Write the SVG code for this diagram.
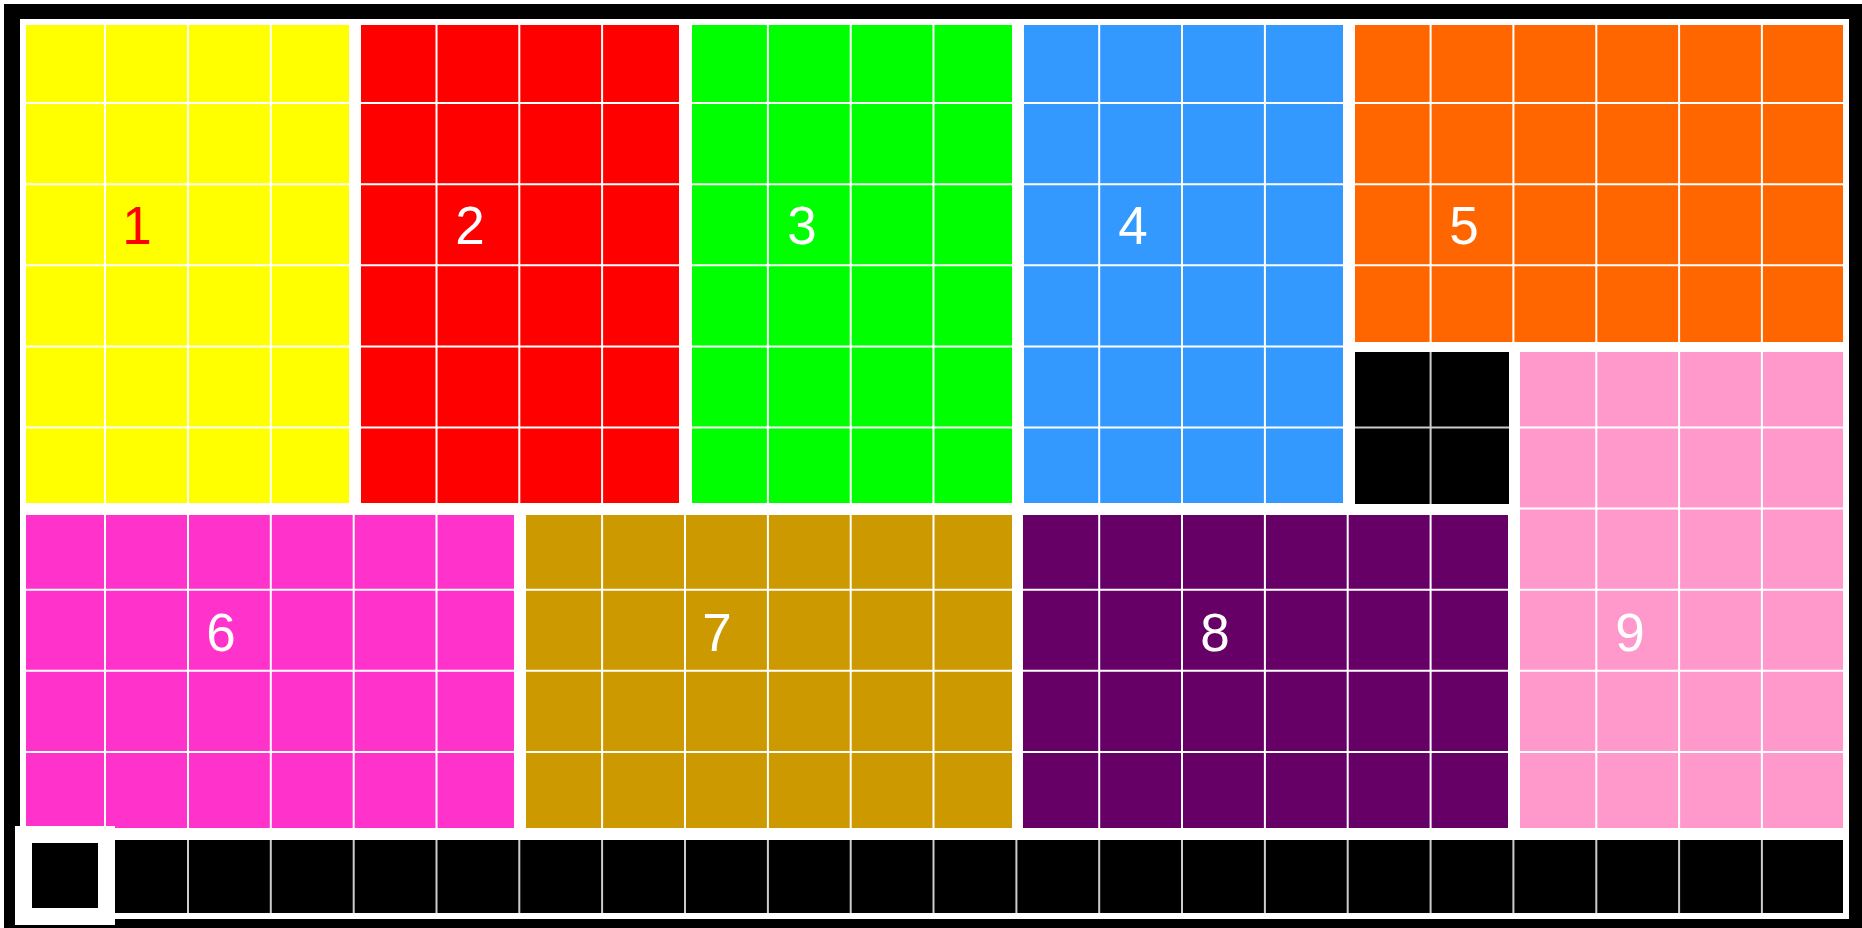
<svg xmlns="http://www.w3.org/2000/svg" width="1862" height="928" viewBox="0 0 1862 928">
<style>
.grid{stroke:#ffffff;stroke-width:2;fill:none}
.lbl{font-family:"Liberation Sans",Arial,sans-serif;font-size:53px;text-anchor:middle;fill:#ffffff}
</style>
<rect x="0" y="0" width="1862" height="928" fill="#ffffff"/>
<rect x="4" y="4" width="1858" height="924" fill="#000000"/>
<rect x="20" y="19" width="1829" height="900" fill="#ffffff"/>

<g id="block1">
<rect x="26" y="25" width="323" height="478" fill="#ffff00"/>
<path class="grid" d="M105 25V503M188 25V503M270.8 25V503M26 103.1H349M26 184.2H349M26 265.3H349M26 346.4H349M26 427.5H349"/>
<text class="lbl" x="137" y="244" style="fill:#ff0000">1</text>
</g>

<g id="block2">
<rect x="361" y="25" width="318" height="478" fill="#ff0000"/>
<path class="grid" d="M436.5 25V503M519.3 25V503M602.1 25V503M361 103.1H679M361 184.2H679M361 265.3H679M361 346.4H679M361 427.5H679"/>
<text class="lbl" x="470" y="244">2</text>
</g>

<g id="block3">
<rect x="692" y="25" width="320" height="478" fill="#00ff00"/>
<path class="grid" d="M767.9 25V503M850.7 25V503M933.5 25V503M692 103.1H1012M692 184.2H1012M692 265.3H1012M692 346.4H1012M692 427.5H1012"/>
<text class="lbl" x="802" y="244">3</text>
</g>

<g id="block4">
<rect x="1024" y="25" width="319" height="478" fill="#3399ff"/>
<path class="grid" d="M1099.2 25V503M1182 25V503M1264.9 25V503M1024 103.1H1343M1024 184.2H1343M1024 265.3H1343M1024 346.4H1343M1024 427.5H1343"/>
<text class="lbl" x="1133" y="244">4</text>
</g>

<g id="block5">
<rect x="1355" y="25" width="488" height="317" fill="#ff6600"/>
<path class="grid" d="M1430.6 25V342M1513.4 25V342M1596.3 25V342M1679.1 25V342M1761.9 25V342M1355 103.1H1843M1355 184.2H1843M1355 265.3H1843"/>
<text class="lbl" x="1464" y="244">5</text>
</g>

<g id="blackbox">
<rect x="1355" y="352" width="154" height="152" fill="#000000"/>
<path class="grid" d="M1430.6 352V504M1355 427.5H1509" style="stroke:#cccccc"/>
</g>

<g id="block9">
<rect x="1520" y="352" width="323" height="476" fill="#ff99cc"/>
<path class="grid" d="M1596.3 352V828M1679.1 352V828M1761.9 352V828M1520 427.5H1843M1520 508.6H1843M1520 589.7H1843M1520 670.8H1843M1520 751.9H1843"/>
<text class="lbl" x="1630" y="651">9</text>
</g>

<g id="block6">
<rect x="26" y="515" width="488" height="313" fill="#ff33cc"/>
<path class="grid" d="M105 515V828M188 515V828M270.8 515V828M353.7 515V828M436.5 515V828M26 589.7H514M26 670.8H514M26 751.9H514"/>
<text class="lbl" x="221" y="651">6</text>
</g>

<g id="block7">
<rect x="526" y="515" width="486" height="313" fill="#cc9900"/>
<path class="grid" d="M602.1 515V828M685 515V828M767.9 515V828M850.7 515V828M933.5 515V828M526 589.7H1012M526 670.8H1012M526 751.9H1012"/>
<text class="lbl" x="717" y="651">7</text>
</g>

<g id="block8">
<rect x="1023" y="515" width="485" height="313" fill="#660066"/>
<path class="grid" d="M1099.2 515V828M1182 515V828M1264.9 515V828M1347.7 515V828M1430.6 515V828M1023 589.7H1508M1023 670.8H1508M1023 751.9H1508"/>
<text class="lbl" x="1215" y="651">8</text>
</g>

<g id="strip">
<rect x="26" y="840" width="1817" height="73" fill="#000000"/>
<path class="grid" style="stroke:#cccccc" d="M188 840V913M270.8 840V913M353.7 840V913M436.5 840V913M519.3 840V913M602.1 840V913M685 840V913M767.9 840V913M850.7 840V913M933.5 840V913M1016.4 840V913M1099.2 840V913M1182 840V913M1264.9 840V913M1347.7 840V913M1430.6 840V913M1513.4 840V913M1596.3 840V913M1679.1 840V913M1761.9 840V913"/>
</g>

<g id="marker-square">
<rect x="23.5" y="834.5" width="83" height="82" fill="#000000" stroke="#ffffff" stroke-width="17"/>
</g>
</svg>
